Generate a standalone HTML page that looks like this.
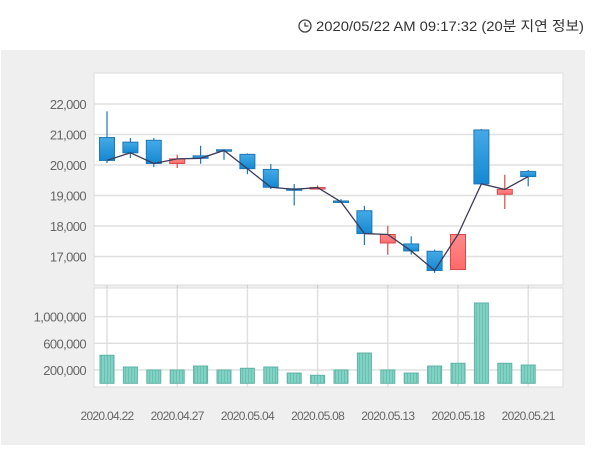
<!DOCTYPE html>
<html><head><meta charset="utf-8">
<style>
body{margin:0;background:#fff;width:600px;height:445px;overflow:hidden;font-family:"Liberation Sans","Noto Sans CJK KR",sans-serif;}
svg text{font-family:"Liberation Sans","Noto Sans CJK KR",sans-serif;}
</style></head>
<body>
<svg id="chart" width="600" height="445" xmlns="http://www.w3.org/2000/svg">
<defs>
<linearGradient id="blueG" x1="0" x2="0" y1="0" y2="1"><stop offset="0" stop-color="#45aae6"/><stop offset="1" stop-color="#1588d2"/></linearGradient>
<linearGradient id="redG" x1="0" x2="0" y1="0" y2="1"><stop offset="0" stop-color="#ff8a8a"/><stop offset="1" stop-color="#ff6a6a"/></linearGradient>
<pattern id="stripe" width="3" height="4" patternUnits="userSpaceOnUse"><rect width="3" height="4" fill="#80d2c4"/><rect x="2" width="1" height="4" fill="#6cc0b2"/></pattern>
</defs>
<g>
<circle cx="305" cy="26" r="6" fill="none" stroke="#444" stroke-width="1.3"/>
<path d="M305 22.5 V26 H308.5" fill="none" stroke="#444" stroke-width="1.3"/>
<text x="316" y="31" font-size="14" fill="#333" textLength="268" lengthAdjust="spacingAndGlyphs">2020/05/22 AM 09:17:32 (20분 지연 정보)</text>
</g>
<rect x="1" y="50" width="584" height="395" fill="#efefef"/>
<rect x="94" y="73" width="469" height="212" fill="#fff" stroke="#dcdcdc"/>
<rect x="94" y="288" width="469" height="99" fill="#fff" stroke="#dcdcdc"/>
<g id="grid"></g>
<g id="marks"></g>
<g id="labels"></g>
</svg>
<script>
const dates=["2020.04.22","2020.04.23","2020.04.24","2020.04.27","2020.04.28","2020.04.29","2020.05.04","2020.05.06","2020.05.07","2020.05.08","2020.05.11","2020.05.12","2020.05.13","2020.05.14","2020.05.15","2020.05.18","2020.05.19","2020.05.20","2020.05.21"];
const openP=[20900,20750,20810,20050,20300,20500,20350,19855,19220,19230,18820,18500,17440,17410,17170,16570,21150,19040,19785];
const highP=[21760,20885,20885,20340,20630,20510,20380,20030,19375,19330,18880,18660,18005,17660,17225,17720,21180,19680,19840];
const lowP=[20065,20230,19930,19900,20040,20170,19700,19210,18670,19200,18760,17375,17055,17060,16460,16560,19370,18555,19300];
const closeP=[20150,20400,20050,20200,20220,20480,19880,19270,19200,19260,18790,17750,17720,17180,16540,17720,19380,19200,19620];
const volume=[420000,244000,200000,200000,259000,200000,225000,244000,154000,120000,200000,454000,200000,154000,259000,300000,1204000,300000,274000];
const priceTicks=[17000,18000,19000,20000,21000,22000];
const volTicks=[200000,600000,1000000];
const dateTickIdx=[0,3,6,9,12,15,18];

const NS="http://www.w3.org/2000/svg";
function mk(tag,attrs,parent){const e=document.createElementNS(NS,tag);for(const k in attrs)e.setAttribute(k,attrs[k]);parent.appendChild(e);return e;}
const xS=i=>107+23.4*i;
const yP=v=>165-(v-20000)*0.03048;
const yV=v=>383.3-v*0.0000667;
const grid=document.getElementById('grid'),marks=document.getElementById('marks'),labels=document.getElementById('labels');

priceTicks.forEach(t=>{
  const l=mk('line',{x1:94,x2:563,y1:yP(t),y2:yP(t),stroke:'#e0e0e0','stroke-width':1.5},grid);
  
  
  const tx=mk('text',{x:86,y:yP(t)+5,'text-anchor':'end','font-size':13,fill:'#666','letter-spacing':'-0.6'},labels);
  tx.textContent=t.toLocaleString('en-US');
  
  
});
volTicks.forEach(t=>{
  const l=mk('line',{x1:94,x2:563,y1:yV(t),y2:yV(t),stroke:'#e0e0e0','stroke-width':1.5},grid);
  
  
  const tx=mk('text',{x:86,y:yV(t)+5,'text-anchor':'end','font-size':13,fill:'#666','letter-spacing':'-0.6'},labels);
  tx.textContent=t.toLocaleString('en-US');
  
  
});
dateTickIdx.forEach(i=>{
  const x=xS(i);
  const l=mk('line',{x1:x,x2:x,y1:288,y2:387,stroke:'#e0e0e0','stroke-width':1.5},grid);
  
  
  const tk=mk('line',{x1:x,x2:x,y1:285,y2:288,stroke:'#ccc'},grid);
  
  
  const tx=mk('text',{x:x,y:420,'text-anchor':'middle','font-size':12,fill:'#666','letter-spacing':'-0.7'},labels);
  tx.textContent=dates[i];
  
  
});
volume.forEach((v,i)=>{
  const r=mk('rect',{x:xS(i)-7,y:yV(v),width:14,height:yV(0)-yV(v),fill:'url(#stripe)',stroke:'#5fb3a5','stroke-width':1},marks);
  
  
});
openP.forEach((o,i)=>{
  const c=closeP[i],up=c>o,x=xS(i);
  const col=up?'#d84a4a':'#1c78b8';
  const w=mk('line',{x1:x,x2:x,y1:yP(highP[i]),y2:yP(lowP[i]),stroke:col,'stroke-width':1.2},marks);
  
  
  const top=yP(Math.max(o,c)),bot=yP(Math.min(o,c));
  const b=mk('rect',{x:x-7.5,y:top,width:15,height:Math.max(bot-top,1.5),fill:up?'url(#redG)':'url(#blueG)',stroke:col,'stroke-width':1},marks);
  
  
});
const pts=closeP.map((c,i)=>xS(i)+','+yP(c)).join(' ');
const pl=mk('polyline',{points:pts,fill:'none',stroke:'#3a3a5a','stroke-width':1.3},marks);


</script>
</body></html>
